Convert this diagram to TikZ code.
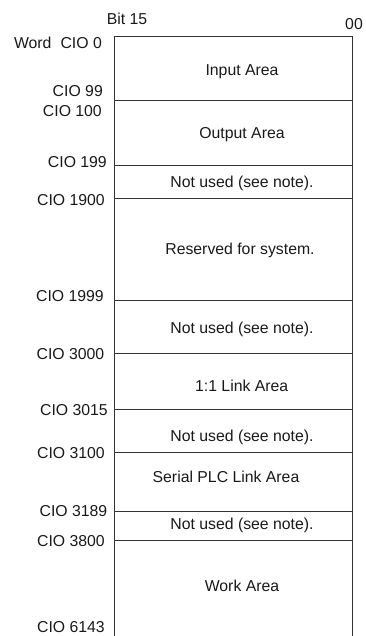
\documentclass[tikz,border=0pt]{standalone}
\usepackage{fontspec}
\setmainfont{Liberation Sans}
\begin{document}
\begin{tikzpicture}[x=1pt,y=-1pt,
  txt/.style={inner sep=0pt, text=black!90, font=\fontsize{15.8}{18}\selectfont},
  lbl/.style={txt, anchor=base east},
  area/.style={txt, anchor=base},
  sepline/.style={draw=black!80, line width=0.9pt}]
\useasboundingbox (0,0) rectangle (366,636);
% frame
\coordinate (tl) at (114,36);
\coordinate (tr) at (352,36);
\coordinate (bl) at (114,636);
\coordinate (br) at (352,636);
\draw[sepline] (bl) -- (tl) -- (tr) -- (br);
% separators
\foreach \n/\y in {a/100,b/165,c/198,d/300,e/353,f/409,g/452,h/511,i/540}{
  \coordinate (\n L) at (114,\y);
  \coordinate (\n R) at (352,\y);
  \draw[sepline] (\n L) -- (\n R);
}
% header
\node[area] (bit15) at (127,24.5) {Bit 15};
\node[area] (bit00) at (354,30) {00};
% word labels
\node[lbl] (w0) at (102,48.5) {Word\hspace{9pt}CIO 0};
\node[lbl] (w99) at (103,97) {CIO 99};
\node[lbl] (w100) at (102,117) {CIO 100};
\node[lbl] (w199) at (107,168) {CIO 199};
\node[lbl] (w1900) at (105,205) {CIO 1900};
\node[lbl] (w1999) at (104,301) {CIO 1999};
\node[lbl] (w3000) at (104.5,359) {CIO 3000};
\node[lbl] (w3015) at (108,415) {CIO 3015};
\node[lbl] (w3100) at (105,458) {CIO 3100};
\node[lbl] (w3189) at (107.5,516) {CIO 3189};
\node[lbl] (w3800) at (105,546) {CIO 3800};
\node[lbl] (w6143) at (105,632) {CIO 6143};
% areas
\node[area] (input) at (242,76) {Input Area};
\node[area] (output) at (242,139) {Output Area};
\node[area] (nu1) at (242,187.7) {Not used (see note).};
\node[area] (resv) at (240,254) {Reserved for system.};
\node[area] (nu2) at (242,333) {Not used (see note).};
\node[area] (link) at (241.7,391.5) {1:1 Link Area};
\node[area] (nu3) at (242,441.5) {Not used (see note).};
\node[area] (serial) at (226,482) {Serial PLC Link Area};
\node[area] (nu4) at (242,529) {Not used (see note).};
\node[area] (work) at (242,591.5) {Work Area};
\end{tikzpicture}
\end{document}
